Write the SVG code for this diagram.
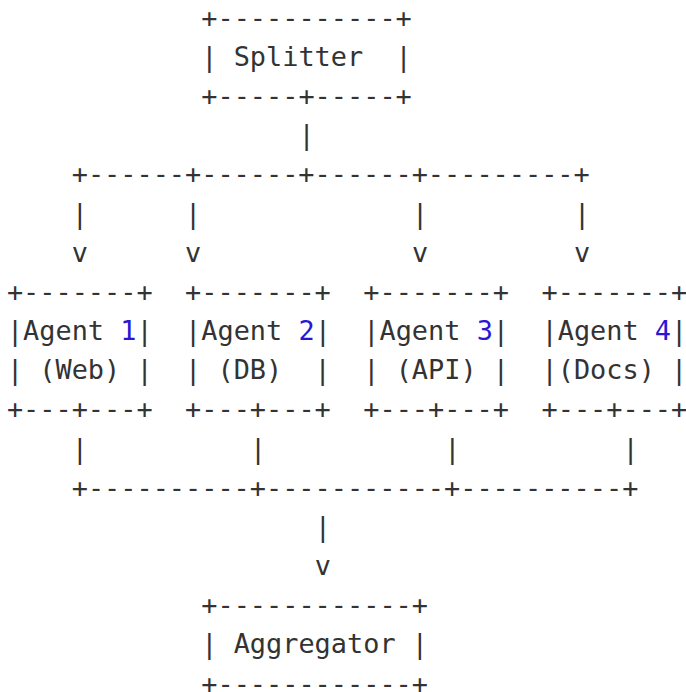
<svg xmlns="http://www.w3.org/2000/svg" width="686" height="692" viewBox="0 0 686 692">
  <style>
    text { font-family: "DejaVu Sans Mono", "Liberation Mono", monospace; font-size: 26.9px; fill: #333333; white-space: pre; }
    .num { fill: #2a16d4; }
  </style>
  <rect width="686" height="692" fill="#ffffff"/>
  <!-- grid: column c starts at x = 6.9 + 16.2*c, row r baseline at y = 26.8 + 39.16*r -->

  <g id="splitter" xml:space="preserve">
    <text x="201.3" y="26.8">+-----------+</text>
    <text x="201.3" y="65.96">| Splitter  |</text>
    <text x="201.3" y="105.12">+-----+-----+</text>
  </g>

  <g id="connectors" xml:space="preserve">
    <!-- fan-out from splitter -->
    <text x="298.5" y="144.28">|</text>
    <text x="71.7" y="183.44">+------+------+------+---------+</text>
    <text x="71.7" y="222.6">|</text>
    <text x="185.1" y="222.6">|</text>
    <text x="411.9" y="222.6">|</text>
    <text x="573.9" y="222.6">|</text>
    <text x="71.7" y="261.76">v</text>
    <text x="185.1" y="261.76">v</text>
    <text x="411.9" y="261.76">v</text>
    <text x="573.9" y="261.76">v</text>
    <!-- fan-in to aggregator -->
    <text x="71.7" y="457.56">|</text>
    <text x="249.9" y="457.56">|</text>
    <text x="444.3" y="457.56">|</text>
    <text x="622.5" y="457.56">|</text>
    <text x="71.7" y="496.72">+----------+-----------+----------+</text>
    <text x="314.7" y="535.88">|</text>
    <text x="314.7" y="575.04">v</text>
  </g>

  <g id="agent1" xml:space="preserve">
    <text x="6.9" y="300.92">+-------+</text>
    <text x="6.9" y="340.08">|Agent <tspan class="num">1</tspan>|</text>
    <text x="6.9" y="379.24">| (Web) |</text>
    <text x="6.9" y="418.4">+---+---+</text>
  </g>

  <g id="agent2" xml:space="preserve">
    <text x="185.1" y="300.92">+-------+</text>
    <text x="185.1" y="340.08">|Agent <tspan class="num">2</tspan>|</text>
    <text x="185.1" y="379.24">| (DB)  |</text>
    <text x="185.1" y="418.4">+---+---+</text>
  </g>

  <g id="agent3" xml:space="preserve">
    <text x="363.3" y="300.92">+-------+</text>
    <text x="363.3" y="340.08">|Agent <tspan class="num">3</tspan>|</text>
    <text x="363.3" y="379.24">| (API) |</text>
    <text x="363.3" y="418.4">+---+---+</text>
  </g>

  <g id="agent4" xml:space="preserve">
    <text x="541.5" y="300.92">+-------+</text>
    <text x="541.5" y="340.08">|Agent <tspan class="num">4</tspan>|</text>
    <text x="541.5" y="379.24">|(Docs) |</text>
    <text x="541.5" y="418.4">+---+---+</text>
  </g>

  <g id="aggregator" xml:space="preserve">
    <text x="201.3" y="614.2">+------------+</text>
    <text x="201.3" y="653.36">| Aggregator |</text>
    <text x="201.3" y="692.52">+------------+</text>
  </g>
</svg>
